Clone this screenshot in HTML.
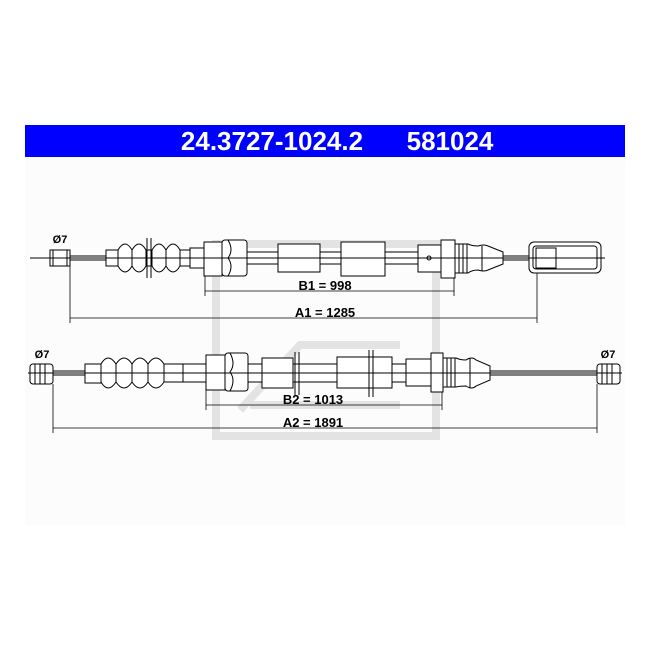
<!DOCTYPE html>
<html><head><style>body{margin:0;background:#fff}svg{display:block}text{font-family:"Liberation Sans",sans-serif;font-weight:bold}</style></head><body>
<svg width="650" height="650" viewBox="0 0 650 650" xmlns="http://www.w3.org/2000/svg">
<rect x="25" y="157" width="600" height="368" fill="#fcfcfc"/>
<rect x="25" y="125" width="600" height="32" fill="#0000ff"/>
<text x="272" y="150" fill="#fff" font-size="26" text-anchor="middle">24.3727-1024.2</text>
<text x="450" y="150" fill="#fff" font-size="26" text-anchor="middle">581024</text>
<g fill="none" stroke="#e3e3e3" stroke-width="8">
<rect x="216" y="244" width="220" height="192"/>
<path d="M240 410 L300 345 L400 345" /><path d="M250 405 L400 405"/>
</g>
<g stroke="#000" stroke-width="1" fill="#fff">
<line x1="30" y1="258" x2="605" y2="258"/>
<rect x="50" y="250" width="20" height="16"/>
<line x1="53" y1="250" x2="53" y2="266"/><line x1="67" y1="250" x2="67" y2="266"/>
<rect x="70" y="256" width="36" height="4"/>
<rect x="106" y="250" width="12" height="16"/>
<path d="M118 250 Q125 238 132 250 Q139 238 146 250 L152 250 Q159 238 166 250 Q173 238 180 250 L190 250 L190 266 L180 266 Q173 278 166 266 Q159 278 152 266 L146 266 Q139 278 132 266 Q125 278 118 266 Z"/>
<path d="M132 250 V266 M146 250 V266 M152 250 V266 M166 250 V266 M180 250 V266" fill="none"/>
<line x1="147" y1="238" x2="147" y2="278"/><line x1="151" y1="238" x2="151" y2="278"/>
<rect x="190" y="248" width="14" height="20"/>
<rect x="204" y="242" width="18" height="34"/>
<rect x="222" y="240" width="25" height="36" rx="3"/>
<path d="M228 240 Q234 250 228 258 Q234 266 228 276"/>
<rect x="247" y="252" width="31" height="12"/>
<rect x="278" y="244" width="42" height="28"/>
<rect x="320" y="252" width="21" height="12"/>
<rect x="341" y="242" width="44" height="34"/>
<rect x="385" y="252" width="33" height="12"/>
<rect x="418" y="245" width="23" height="27"/>
<circle cx="429" cy="258" r="2"/>
<rect x="441" y="240" width="14" height="38"/>
<path d="M455 244 L468 244 Q472 246 478 246 Q484 244 488 246 L503 252 L503 264 L488 270 Q484 272 478 270 Q472 270 468 273 L455 273 Z"/>
<path d="M459 244 V273 M463 244 V273 M467 244 V273 M482 246 V271" fill="none"/>
<rect x="503" y="256" width="26" height="4"/>
<rect x="529" y="242" width="72" height="31" rx="5"/>
<rect x="533" y="246" width="64" height="23" rx="3"/>
<rect x="536" y="248" width="20" height="20"/>
<line x1="30" y1="258" x2="605" y2="258" fill="none"/>
</g>
<g stroke="#000" stroke-width="0.8" fill="none">
<line x1="205" y1="276" x2="205" y2="296"/><line x1="454" y1="278" x2="454" y2="296"/>
<line x1="205" y1="291" x2="454" y2="291"/>
<line x1="70" y1="266" x2="70" y2="323"/><line x1="537" y1="273" x2="537" y2="323"/>
<line x1="70" y1="318" x2="537" y2="318"/>
</g>
<text x="325" y="290" font-size="13" text-anchor="middle">B1 = 998</text>
<text x="325" y="317" font-size="13" text-anchor="middle">A1 = 1285</text>
<text x="60" y="243" font-size="11" text-anchor="middle">Ø7</text>

<g stroke="#000" stroke-width="1" fill="#fff">
<line x1="28" y1="373" x2="622" y2="373"/>
<rect x="30" y="364" width="23" height="20" rx="3"/>
<path d="M35 364 V384 M40 364 V384 M45 364 V384"/>
<rect x="53" y="371" width="32" height="4"/>
<rect x="85" y="364" width="16" height="19"/>
<path d="M101 364 Q108 352 116 364 Q124 352 132 364 Q140 352 148 364 Q156 352 164 364 L183 364 L183 382 L164 382 Q156 394 148 382 Q140 394 132 382 Q124 394 116 382 Q108 394 101 382 Z"/>
<path d="M116 364 V382 M132 364 V382 M148 364 V382 M164 364 V382" fill="none"/>
<rect x="183" y="364" width="23" height="18"/>
<rect x="206" y="355" width="19" height="35"/>
<rect x="225" y="353" width="23" height="38" rx="3"/>
<path d="M230 353 Q236 364 230 372 Q236 380 230 391"/>
<rect x="248" y="364" width="14" height="18"/>
<rect x="262" y="358" width="31" height="30"/>
<rect x="293" y="364" width="44" height="18"/>
<line x1="295" y1="352" x2="295" y2="395"/><line x1="299" y1="352" x2="299" y2="395"/>
<rect x="337" y="357" width="55" height="31"/>
<line x1="369" y1="350" x2="369" y2="397"/><line x1="373" y1="350" x2="373" y2="397"/>
<rect x="392" y="364" width="14" height="18"/>
<rect x="406" y="359" width="25" height="27"/>
<rect x="431" y="353" width="12" height="39"/>
<path d="M443 358 L456 358 Q460 360 466 360 Q472 356 476 360 L490 366 L490 380 L476 386 Q472 390 466 386 Q460 386 456 387 L443 387 Z"/>
<path d="M447 358 V387 M451 358 V387 M455 358 V387 M470 358 V388" fill="none"/>
<rect x="490" y="371" width="107" height="4"/>
<rect x="597" y="364" width="23" height="20" rx="3"/>
<path d="M602 364 V384 M607 364 V384 M612 364 V384"/>
<line x1="28" y1="373" x2="622" y2="373" fill="none"/>
</g>
<g stroke="#000" stroke-width="0.8" fill="none">
<line x1="206" y1="390" x2="206" y2="410"/><line x1="442" y1="392" x2="442" y2="410"/>
<line x1="206" y1="405" x2="442" y2="405"/>
<line x1="53" y1="384" x2="53" y2="433"/><line x1="597" y1="384" x2="597" y2="433"/>
<line x1="53" y1="428" x2="597" y2="428"/>
</g>
<text x="313" y="404" font-size="13" text-anchor="middle">B2 = 1013</text>
<text x="313" y="427" font-size="13" text-anchor="middle">A2 = 1891</text>
<text x="42" y="358" font-size="11" text-anchor="middle">Ø7</text>
<text x="608" y="358" font-size="11" text-anchor="middle">Ø7</text>
</svg>
</body></html>
